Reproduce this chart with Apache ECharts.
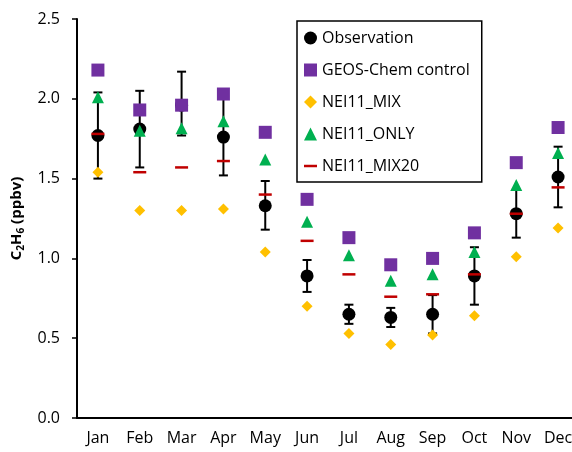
<!DOCTYPE html>
<html>
<head>
<meta charset="utf-8">
<script src="https://cdn.jsdelivr.net/npm/echarts@6/dist/echarts.min.js"></script>
<style>html,body{margin:0;padding:0;background:#fff}#c{width:572px;height:452px}</style>
</head>
<body>
<div id="c"></div>
<script>
const months = ['Jan','Feb','Mar','Apr','May','Jun','Jul','Aug','Sep','Oct','Nov','Dec'];
const obs     = [1.77, 1.81, 1.96, 1.76, 1.33, 0.89, 0.65, 0.63, 0.65, 0.89, 1.28, 1.51];
const obsLow  = [1.50, 1.57, 1.77, 1.52, 1.18, 0.79, 0.59, 0.57, 0.53, 0.71, 1.13, 1.32];
const obsHigh = [2.04, 2.05, 2.17, 2.00, 1.485, 0.99, 0.71, 0.69, 0.77, 1.07, 1.43, 1.70];
const geos    = [2.18, 1.93, 1.96, 2.03, 1.79, 1.37, 1.13, 0.96, 1.00, 1.16, 1.60, 1.82];
const nei11Mix   = [1.54, 1.30, 1.30, 1.31, 1.04, 0.70, 0.53, 0.46, 0.52, 0.64, 1.01, 1.19];
const nei11Only  = [2.01, 1.80, 1.815, 1.86, 1.62, 1.23, 1.02, 0.86, 0.90, 1.04, 1.46, 1.66];
const nei11Mix20 = [1.78, 1.54, 1.57, 1.61, 1.40, 1.11, 0.90, 0.76, 0.775, 0.90, 1.28, 1.445];
const yTicks = [0, 0.5, 1.0, 1.5, 2.0, 2.5];

const FONT = 'Open Sans';
const chart = echarts.init(document.getElementById('c'), null, {renderer: 'canvas'});
const errData = months.map((m, i) => [i, obsLow[i], obsHigh[i]]);

chart.setOption({
  animation: false,
  textStyle: {fontFamily: FONT},
  grid: {left: 77, width: 502, top: 19, bottom: 34, containLabel: false, outerBoundsMode: 'none'},
  legend: {
    orient: 'vertical', left: 297, top: 21,
    padding: [9, 12, 8, 7],
    borderColor: '#000', borderWidth: 1.5,
    itemWidth: 13, itemHeight: 13, itemGap: 16,
    selectedMode: false,
    textStyle: {fontFamily: FONT, fontSize: 16, color: '#000'},
    data: [
      {name: 'Observation', icon: 'circle'},
      {name: 'GEOS-Chem control', icon: 'rect'},
      {name: 'NEI11_MIX', icon: 'diamond'},
      {name: 'NEI11_ONLY', icon: 'triangle'},
      {name: 'NEI11_MIX20', icon: 'path://M0,0H13V2.5H0Z'}
    ]
  },
  xAxis: {
    type: 'category', data: months, boundaryGap: true,
    axisLine: {lineStyle: {color: '#000', width: 2}},
    axisTick: {alignWithLabel: true, length: 5, lineStyle: {color: '#000', width: 1.5}},
    axisLabel: {color: '#000', fontSize: 16, fontFamily: FONT, margin: 12, interval: 0},
    splitLine: {show: false}
  },
  yAxis: {
    type: 'value', min: 0, max: 2.5, interval: 0.5,
    axisLine: {show: true, lineStyle: {color: '#000', width: 2}},
    axisTick: {show: true, length: 5, lineStyle: {color: '#000', width: 1.5}},
    axisLabel: {color: '#000', fontSize: 16, fontFamily: FONT, margin: 17,
      formatter: v => yTicks.includes(v) ? v.toFixed(1) : ''},
    splitLine: {show: false},
    name: '{a|C}{s|2}{a|H}{s|6}{a| (ppbv)}',
    nameLocation: 'middle', nameGap: 46, nameRotate: 90,
    nameTextStyle: {
      rich: {
        a: {fontFamily: FONT, fontSize: 15, fontWeight: 'bold', color: '#000', lineHeight: 20, verticalAlign: 'middle'},
        s: {fontFamily: FONT, fontSize: 10, fontWeight: 'bold', color: '#000', lineHeight: 20, verticalAlign: 'bottom', padding: [6, 0, 0, 0]}
      }
    }
  },
  series: [
    {
      type: 'custom', name: 'errbar', z: 2, data: errData,
      renderItem: function (params, api) {
        const x = api.value(0);
        const lo = api.coord([x, api.value(1)]);
        const hi = api.coord([x, api.value(2)]);
        const w = 4.5;
        const st = {stroke: '#000', lineWidth: 2};
        return {type: 'group', children: [
          {type: 'line', shape: {x1: lo[0], y1: lo[1], x2: hi[0], y2: hi[1]}, style: st},
          {type: 'line', shape: {x1: lo[0]-w, y1: lo[1], x2: lo[0]+w, y2: lo[1]}, style: st},
          {type: 'line', shape: {x1: hi[0]-w, y1: hi[1], x2: hi[0]+w, y2: hi[1]}, style: st}
        ]};
      }
    },
    {type: 'scatter', name: 'Observation', z: 3, data: obs, symbol: 'circle', symbolSize: 13,
      itemStyle: {color: '#000', opacity: 1}},
    {type: 'scatter', name: 'GEOS-Chem control', z: 4, data: geos, symbol: 'rect', symbolSize: 13,
      itemStyle: {color: '#7030A0', opacity: 1}},
    {type: 'scatter', name: 'NEI11_MIX', z: 5, data: nei11Mix, symbol: 'diamond', symbolSize: 11,
      itemStyle: {color: '#FFC000', opacity: 1}},
    {type: 'scatter', name: 'NEI11_ONLY', z: 6, data: nei11Only, symbol: 'triangle', symbolSize: 12,
      itemStyle: {color: '#00B050', opacity: 1}},
    {type: 'scatter', name: 'NEI11_MIX20', z: 7, data: nei11Mix20, symbol: 'rect', symbolSize: [13, 2.5],
      itemStyle: {color: '#C00000', opacity: 1}}
  ]
});
</script>
</body>
</html>
